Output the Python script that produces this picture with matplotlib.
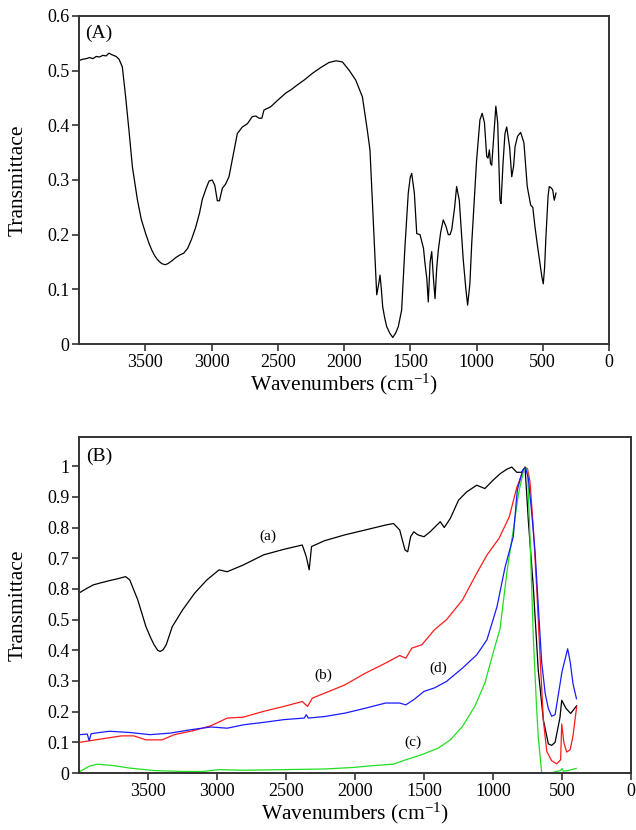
import matplotlib
matplotlib.use("Agg")
import matplotlib.pyplot as plt

plt.rcParams['font.family'] = ['Liberation Serif', 'DejaVu Serif']
plt.rcParams['mathtext.default'] = 'regular'

# ---------------- Panel A data ----------------
a_wn = [3995, 3970, 3945, 3920, 3895, 3870, 3845, 3820, 3795, 3774, 3750, 3720, 3698, 3673,
        3648, 3623, 3597, 3560, 3530, 3497, 3470, 3451, 3430, 3410, 3390, 3375, 3350, 3329,
        3300, 3270, 3238, 3210, 3180, 3150, 3120, 3090, 3069, 3040, 3019, 2994, 2975, 2956,
        2940, 2918, 2895, 2868, 2843, 2805, 2767, 2729, 2692, 2665, 2641, 2620, 2604, 2553,
        2500, 2440, 2400, 2352, 2300, 2239, 2180, 2113, 2060, 2012, 1962, 1912, 1861, 1824,
        1804, 1779, 1753, 1738, 1728, 1718, 1708, 1693, 1678, 1655, 1632, 1610, 1590, 1565,
        1540, 1515, 1500, 1489, 1469, 1451, 1426, 1400, 1389, 1375, 1364, 1350, 1338, 1325,
        1313, 1300, 1288, 1270, 1251, 1230, 1213, 1200, 1187, 1165, 1150, 1130, 1100, 1080,
        1067, 1050, 1036, 999, 974, 957, 940, 923, 913, 903, 894, 885, 870, 854, 840,
        823, 815, 800, 785, 772, 750, 734, 720, 709, 690, 667, 642, 617, 591, 575, 559,
        540, 521, 506, 496, 486, 476, 460, 451, 438, 425, 413, 400]
a_tr = [0.519, 0.521, 0.522, 0.524, 0.522, 0.526, 0.525, 0.528, 0.527, 0.532, 0.529, 0.526, 0.521, 0.507,
        0.452, 0.391, 0.324, 0.265, 0.228, 0.202, 0.183, 0.172, 0.162, 0.155, 0.150, 0.147, 0.145, 0.147,
        0.152, 0.158, 0.163, 0.166, 0.175, 0.192, 0.213, 0.240, 0.265, 0.285, 0.298, 0.300, 0.290, 0.262,
        0.262, 0.285, 0.292, 0.306, 0.337, 0.385, 0.397, 0.403, 0.416, 0.417, 0.413, 0.413, 0.428, 0.434,
        0.446, 0.459, 0.465, 0.474, 0.483, 0.495, 0.505, 0.515, 0.518, 0.516, 0.501, 0.483, 0.452, 0.391,
        0.355, 0.227, 0.090, 0.110, 0.126, 0.100, 0.068, 0.048, 0.032, 0.020, 0.012, 0.020, 0.032, 0.062,
        0.178, 0.276, 0.305, 0.312, 0.276, 0.202, 0.200, 0.175, 0.148, 0.120, 0.077, 0.150, 0.169, 0.120,
        0.083, 0.140, 0.172, 0.205, 0.227, 0.215, 0.200, 0.200, 0.209, 0.250, 0.288, 0.263, 0.154, 0.100,
        0.071, 0.110, 0.184, 0.337, 0.410, 0.422, 0.405, 0.343, 0.340, 0.355, 0.330, 0.327, 0.380, 0.435, 0.405,
        0.263, 0.257, 0.330, 0.385, 0.397, 0.360, 0.306, 0.325, 0.361, 0.380, 0.387, 0.368, 0.288, 0.254, 0.250, 0.215,
        0.180, 0.148, 0.122, 0.110, 0.140, 0.196, 0.270, 0.288, 0.286, 0.282, 0.263, 0.276]

# ---------------- Panel B data ----------------
ba_wn = [3994, 3950, 3897, 3840, 3779, 3720, 3662, 3632, 3574, 3515, 3480, 3456, 3430, 3412, 3390,
         3368, 3324, 3250, 3162, 3074, 2985, 2926, 2809, 2662, 2515, 2382, 2353, 2332, 2315,
         2221, 2074, 1926, 1779, 1721, 1676, 1638, 1618, 1597, 1574, 1544, 1500, 1456,
         1382, 1353, 1309, 1250, 1191, 1118, 1059, 1000, 949, 900, 864, 828, 792, 768,
         744, 708, 672, 635, 599, 575, 550, 515, 502, 470, 437, 394]
ba_tr = [0.588, 0.600, 0.613, 0.620, 0.627, 0.633, 0.640, 0.629, 0.564, 0.477, 0.440, 0.418, 0.400, 0.396, 0.402,
         0.418, 0.477, 0.531, 0.586, 0.629, 0.662, 0.656, 0.678, 0.711, 0.729, 0.743, 0.705, 0.662, 0.738,
         0.757, 0.776, 0.792, 0.808, 0.813, 0.792, 0.727, 0.721, 0.770, 0.786, 0.776, 0.770, 0.786,
         0.819, 0.800, 0.830, 0.889, 0.916, 0.938, 0.927, 0.954, 0.975, 0.990, 0.997, 0.980, 0.980, 0.997,
         0.823, 0.606, 0.335, 0.173, 0.095, 0.090, 0.100, 0.180, 0.237, 0.210, 0.194, 0.219]

bb_wn = [3994, 3838, 3691, 3603, 3515, 3397, 3309, 3162, 3044, 2926, 2809, 2662, 2515,
         2382, 2344, 2309, 2221, 2074, 1926, 1779, 1676, 1632, 1588, 1515, 1426, 1382,
         1338, 1221, 1118, 1044, 956, 882, 828, 790, 768, 750, 732, 708, 683, 659, 635,
         610, 575, 538, 510, 502, 486, 466, 441, 421, 394]
bb_tr = [0.100, 0.111, 0.121, 0.121, 0.108, 0.108, 0.125, 0.139, 0.154, 0.179, 0.182, 0.201, 0.217,
         0.233, 0.217, 0.244, 0.260, 0.287, 0.325, 0.358, 0.383, 0.374, 0.407, 0.418, 0.466, 0.483,
         0.499, 0.564, 0.651, 0.710, 0.765, 0.835, 0.930, 0.976, 0.995, 0.992, 0.950, 0.800, 0.600, 0.380, 0.170,
         0.070, 0.040, 0.030, 0.043, 0.160, 0.098, 0.068, 0.076, 0.119, 0.215]

bc_wn = [3994, 3926, 3868, 3750, 3632, 3456, 3250, 3103, 2985, 2809, 2515, 2221, 2015,
         1868, 1721, 1632, 1515, 1397, 1309, 1221, 1132, 1059, 1000, 949, 897, 853, 815,
         780, 765, 750, 732, 708, 685, 672, 647, 620, 590, 560, 530, 510, 500, 490, 456, 397]
bc_tr = [0.005, 0.022, 0.029, 0.024, 0.016, 0.008, 0.005, 0.005, 0.011, 0.009, 0.011, 0.013, 0.018,
         0.024, 0.029, 0.043, 0.060, 0.081, 0.108, 0.152, 0.217, 0.293, 0.390, 0.470, 0.662, 0.792, 0.911,
         0.982, 0.996, 0.987, 0.770, 0.443, 0.220, 0.117, 0.000, -0.010, -0.005, 0.003, 0.006, 0.008, 0.015, 0.006, 0.008, 0.015]

bd_wn = [3994, 3940, 3926, 3912, 3850, 3779, 3632, 3485, 3338, 3191, 3044, 2926, 2809, 2662,
         2515, 2368, 2353, 2338, 2221, 2074, 1926, 1779, 1676, 1632, 1574, 1500, 1426, 1338,
         1221, 1118, 1044, 971, 912, 853, 824, 785, 765, 744, 720, 695, 670, 647, 622, 599,
         575, 550, 525, 500, 459, 440, 420, 395]
bd_tr = [0.125, 0.127, 0.105, 0.128, 0.132, 0.136, 0.132, 0.125, 0.130, 0.141, 0.150, 0.146, 0.157, 0.165,
         0.174, 0.179, 0.190, 0.179, 0.184, 0.195, 0.211, 0.228, 0.228, 0.222, 0.239, 0.266, 0.277, 0.298,
         0.342, 0.385, 0.434, 0.542, 0.672, 0.770, 0.922, 0.987, 0.996, 0.960, 0.850, 0.720, 0.530, 0.360, 0.260, 0.210,
         0.185, 0.190, 0.260, 0.330, 0.405, 0.360, 0.290, 0.242]

a_yticks = [0, 0.1, 0.2, 0.3, 0.4, 0.5, 0.6]
a_yticklabels = ['0', '0.1', '0.2', '0.3', '0.4', '0.5', '0.6']
b_yticks = [0, 0.1, 0.2, 0.3, 0.4, 0.5, 0.6, 0.7, 0.8, 0.9, 1.0]
b_yticklabels = ['0', '0.1', '0.2', '0.3', '0.4', '0.5', '0.8', '0.7', '0.8', '0.9', '1']
xticks = [3500, 3000, 2500, 2000, 1500, 1000, 500, 0]
xticklabels = ['3500', '3000', '2500', '2000', '1500', '1000', '500', '0']

W, H = 636, 830
fig = plt.figure(figsize=(W / 100, H / 100), dpi=100)

def px_axes(l, t, r, b):
    return fig.add_axes([l / W, 1 - b / H, (r - l) / W, (b - t) / H])

axA = px_axes(79, 16, 609, 344)
axB = px_axes(79, 437, 631, 773)

spine_col = '#333333'
for ax in (axA, axB):
    for s in ax.spines.values():
        s.set_color(spine_col)
        s.set_linewidth(1.4)
    ax.tick_params(axis='both', direction='out', length=5, width=1.2, color=spine_col,
                   labelsize=13, top=False, right=False, pad=2)
    ax.set_xlim(4000, 0)
    ax.set_xticks(xticks)
    ax.set_xticklabels(xticklabels)
    ax.set_xlabel('Wavenumbers (cm$^{-1}$)', fontsize=15.5, labelpad=1)
    ax.set_ylabel('Transmittace', fontsize=15.5, labelpad=14)

axA.plot(a_wn, a_tr, color='black', lw=0.9)
axA.set_ylim(0, 0.6)
axA.set_yticks(a_yticks)
axA.set_yticklabels(a_yticklabels)
axA.text(0.011, 0.975, '(A)', transform=axA.transAxes, fontsize=14, va='top', ha='left')

axB.plot(ba_wn, ba_tr, color='black', lw=0.9)
axB.plot(bb_wn, bb_tr, color='#ff1a1a', lw=0.9)
axB.plot(bc_wn, bc_tr, color='#22dd22', lw=0.9)
axB.plot(bd_wn, bd_tr, color='#1a1aff', lw=0.9)
axB.set_ylim(0, 1.095)
axB.set_yticks(b_yticks)
axB.set_yticklabels(b_yticklabels)
axB.text(0.013, 0.968, '(B)', transform=axB.transAxes, fontsize=14, va='top', ha='left')

axB.text(2632, 0.77, '(a)', fontsize=11, ha='center', va='center')
axB.text(2230, 0.32, '(b)', fontsize=11, ha='center', va='center')
axB.text(1580, 0.10, '(c)', fontsize=11, ha='center', va='center')
axB.text(1397, 0.342, '(d)', fontsize=11, ha='center', va='center')

fig.savefig('out.png', dpi=100)
